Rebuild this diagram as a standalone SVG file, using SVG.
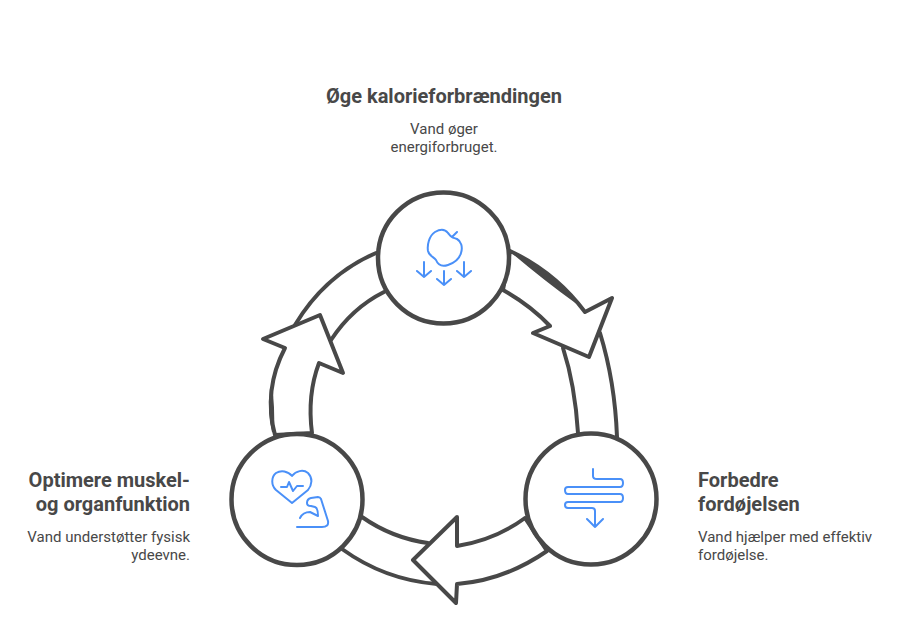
<svg xmlns="http://www.w3.org/2000/svg" width="900" height="636" viewBox="0 0 900 636">
<style>
.ring{fill:none;stroke:#484848;stroke-width:4;stroke-linecap:round;stroke-linejoin:round}
.head{fill:#fff;stroke:#484848;stroke-width:4;stroke-linejoin:round}
.node{fill:#fff;stroke:#484848;stroke-width:4.500}
.icon{fill:none;stroke:#4a90f8;stroke-width:2;stroke-linecap:round;stroke-linejoin:round}
text{font-family:Roboto,"Liberation Sans",sans-serif;fill:#484848}
.t{font-size:20px;font-weight:700}
.d{font-size:15px}
</style>
<rect width="900" height="636" fill="#fff"/>
<g id="connectors">
<path class="ring" d="M600 333Q615 382 617 437M563 348Q575 385 578 433"/>
<path class="ring" d="M362 517Q392 538 428 543M342 549Q385 580 437 584"/>
<path class="ring" d="M295 325Q325 275 376 253M331 340Q352 308 384 292"/>
<path class="head" d="M510 251Q555 272 585 312L612 298L589 357L533 333L550 326Q530 305 503 290Z"/>
<path fill="#484848" d="M512 252Q550 273 577 303Q545 280 512 252Z" stroke="#484848" stroke-width="2"/>
<path class="head" d="M525 518Q495 540 457 546L457 517L413 560L456 603L457 584Q505 580 547 551Z"/>
<path class="head" d="M275 435Q263 390 285 348L263 339L320 315L343 373L319 363Q307 395 312 433Z"/>
<path fill="#484848" d="M271 388Q268 412 273 432Q274 405 271 388Z" stroke="#484848" stroke-width="2"/>
</g>
<g id="node-top">
<circle class="node" cx="443.500" cy="258" r="65.500"/>
<path class="icon" d="M448 233C445 229 440 229 435 232C429 236 427 245 428 251C429 256 434 257 436 260C438 265 442 267 448 265C454 263 459 260 461 253C463 247 461 241 457 239C455 238 453 238 452 237C450 236 449 234 448 233ZM452 237L457 232M424 262V277M417 271L424 277L431 271M444 271V285M437 279L444 285L451 279M464 262V277M457 271L464 277L471 271"/>
<text class="t" x="444" y="103" text-anchor="middle">Øge kalorieforbrændingen</text>
<text class="d" x="444" y="134" text-anchor="middle">Vand øger</text>
<text class="d" x="444" y="152" text-anchor="middle">energiforbruget.</text>
</g>
<g id="node-right">
<circle class="node" cx="591" cy="499" r="65.500"/>
<path class="icon" d="M593 469V476Q593 479 597 479H620Q623 479 623 483Q623 487 620 487H568Q565 487 565 490Q565 494 568 494H620Q623 494 623 498Q623 502 620 502H568Q565 502 565 505Q565 508 568 508H592Q595 508 595 511V527M587 519L595 527L603 519"/>
<text class="t" x="698" y="487">Forbedre</text>
<text class="t" x="698" y="511">fordøjelsen</text>
<text class="d" x="698" y="542">Vand hjælper med effektiv</text>
<text class="d" x="698" y="560">fordøjelse.</text>
</g>
<g id="node-left">
<circle class="node" cx="297" cy="499.500" r="65.500"/>
<path class="icon" d="M292 503L276 490C271 485 271 477 276 473C281 470 288 471 292 476C296 471 303 469 308 473C313 478 312 485 308 490ZM281 487H287L289 482L293 491L297 486H303M297 527H322Q329 527 328 521L321 499Q320 497 318 497L311 498Q307 499 307 503Q307 506 311 506L315 507Q318 508 318 516M300 518Q303 512 310 512L318 516"/>
<text class="t" x="190" y="487" text-anchor="end">Optimere muskel-</text>
<text class="t" x="190" y="511" text-anchor="end">og organfunktion</text>
<text class="d" x="190" y="542" text-anchor="end">Vand understøtter fysisk</text>
<text class="d" x="190" y="560" text-anchor="end">ydeevne.</text>
</g>
</svg>
